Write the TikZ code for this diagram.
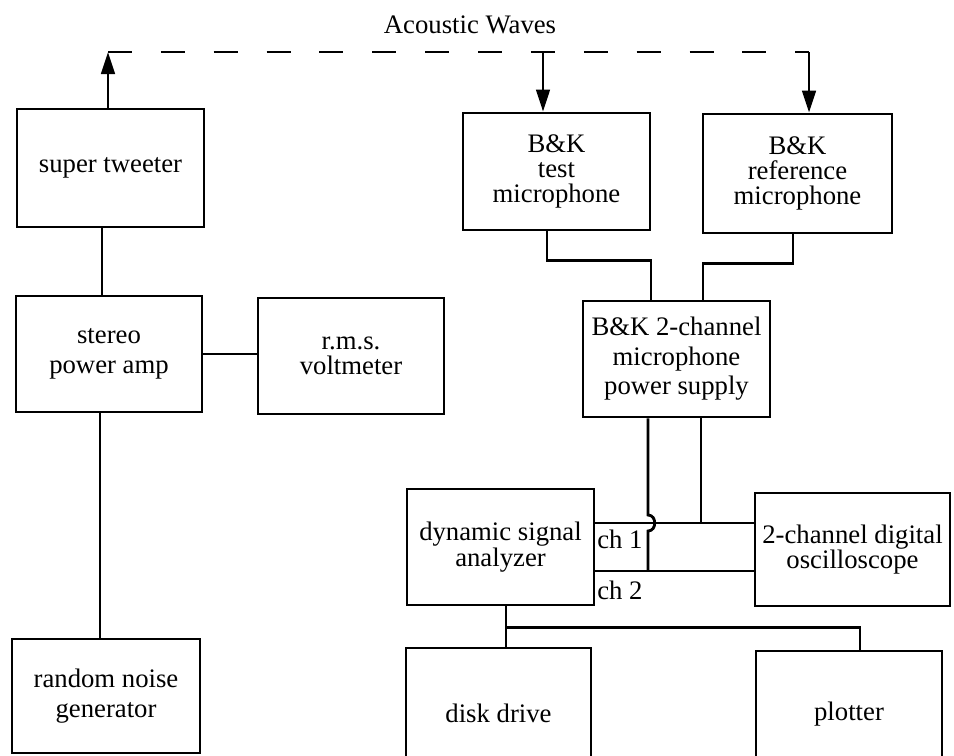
\documentclass[tikz,border=0pt]{standalone}
\usepackage{fontspec}
\setmainfont{Liberation Serif}
\usetikzlibrary{arrows.meta,calc}
\tikzset{
  unit/.style={draw=black,line width=2pt,align=center,inner sep=2pt,font=\fontsize{19}{18}\selectfont},
  tight/.style={font=\fontsize{19}{16.8}\selectfont},
  loose/.style={font=\fontsize{19}{21}\selectfont},
  chlabel/.style={font=\fontsize{19}{20}\selectfont,anchor=west,inner sep=0pt},
  wire/.style={draw=black,line width=2pt},
  wave/.style={wire,dash pattern=on 17pt off 20.6pt},
  arr/.style={-{Triangle[length=0.55cm,width=0.34cm]}}
}
\begin{document}
\begin{tikzpicture}[x=0.025cm,y=-0.025cm]
\path[use as bounding box] (0,0) rectangle (954,756);
\clip (0,0) rectangle (954,756);
\node[font=\fontsize{19}{20}\selectfont] (waves) at (470,25) {Acoustic Waves};
\node[unit,minimum width=4.675cm,minimum height=2.95cm] (tweeter) at (110.5,168) {super tweeter};
\node[unit,loose,minimum width=4.65cm,minimum height=2.9cm] (amp) at (109,354) {stereo\\power amp};
\node[unit,minimum width=4.65cm,minimum height=2.9cm] (volt) at (351,356) {r.m.s.\\voltmeter};
\node[unit,loose,minimum width=4.7cm,minimum height=2.85cm] (noise) at (106,696) {random noise\\generator};
\node[unit,minimum width=4.675cm,minimum height=2.925cm] (test) at (556.5,171.5) {B\&K\\test\\microphone};
\node[unit,minimum width=4.725cm,minimum height=2.975cm] (refmic) at (797.5,173.5) {B\&K\\reference\\microphone};
\node[unit,loose,minimum width=4.675cm,minimum height=2.9cm] (psu) at (676.5,359) {B\&K 2-channel\\microphone\\power supply};
\node[unit,tight,minimum width=4.675cm,minimum height=2.9cm] (dsa) at (500.5,547) {dynamic signal\\analyzer};
\node[unit,tight,minimum width=4.875cm,minimum height=2.825cm] (osc) at (852.5,549.5) {2-channel digital\\oscilloscope};
\node[unit,minimum width=4.625cm,minimum height=3.25cm] (disk) at (498.5,713) {disk drive};
\node[unit,minimum width=4.65cm,minimum height=3.175cm] (plot) at (849,714.5) {plotter};
\node[chlabel] (ch1lbl) at (597,539) {ch 1};
\node[chlabel] (ch2lbl) at (597,590) {ch 2};
\coordinate (wl) at (108,52);
\coordinate (wt) at (543,52);
\coordinate (wr) at (809,52);
\draw[wire,arr] (tweeter.north -| wl) -- (wl);
\draw[wave] (wl) -- (wr);
\draw[wire,arr] (wt) -- (wt |- test.north);
\draw[wire,arr] (wr) -- (wr |- refmic.north);
\coordinate (tw) at ($(tweeter.south)+(-8.5,0)$);
\coordinate (ns) at ($(amp.south)+(-9,0)$);
\draw[wire] (tw) -- (tw |- amp.north);
\draw[wire] (amp.east) -- (amp.east -| volt.west);
\draw[wire] (ns) -- (ns |- noise.north);
\draw[wire] ($(test.south)+(-9.5,0)$) -- ++(0,29) -| ($(psu.north)+(-25.5,0)$);
\draw[wire] ($(refmic.south)+(-4.5,0)$) -- ++(0,29) -| ($(psu.north)+(26.5,0)$);
\coordinate (ch1) at ($(dsa.east)+(0,-24)$);
\coordinate (ch2) at ($(dsa.east)+(0,24)$);
\draw[wire] (ch1) -- (ch1 -| osc.west);
\draw[wire] (ch2) -- (ch2 -| osc.west);
\coordinate (pl) at ($(psu.south)+(-28.5,0)$);
\coordinate (pr) at ($(psu.south)+(24.5,0)$);
\coordinate (hop) at (pl |- ch1);
\draw[wire] (pr) -- (pr |- ch1);
\draw[wire] (pl) -- ($(hop)+(0,-8)$) .. controls +(9,0) and +(9,0) .. ($(hop)+(0,8)$) -- (pl |- ch2);
\coordinate (bus) at ($(dsa.south)+(5.5,21)$);
\draw[wire] (dsa.south -| bus) -- (bus |- disk.north);
\draw[wire] (bus) -| ($(plot.north)+(11,0)$);
\end{tikzpicture}
\end{document}
